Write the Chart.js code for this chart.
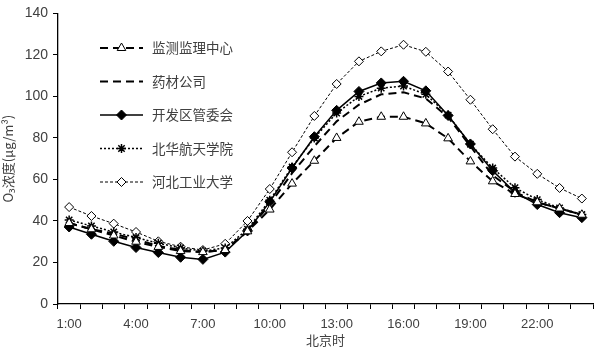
<!DOCTYPE html>
<html lang="zh">
<head>
<meta charset="UTF-8">
<title>O3 浓度日变化</title>
<script src="https://cdn.jsdelivr.net/npm/chart.js"></script>
<style>
  html, body { margin: 0; padding: 0; background: #fff; }
  #wrap { width: 599px; height: 352px; position: relative; }
</style>
</head>
<body>
<div id="wrap"><canvas id="chart" width="599" height="352"></canvas></div>
<script>
  // hours 1:00 .. 24:00
  const hours = ['1:00','2:00','3:00','4:00','5:00','6:00','7:00','8:00','9:00','10:00','11:00','12:00',
                 '13:00','14:00','15:00','16:00','17:00','18:00','19:00','20:00','21:00','22:00','23:00','24:00'];

  const seriesNames = ['监测监理中心', '药材公司', '开发区管委会', '北华航天学院', '河北工业大学'];

  const jianceData = [39, 36, 33, 30, 27.5, 25.5, 25, 26, 35, 45.5, 58, 69, 80, 87.8, 90.2, 90.2, 87, 79.8, 68.7, 59.1, 53, 49, 46, 43];
  const yaocaiData = [39, 36, 34, 31, 28, 26, 25, 26, 35, 48, 63, 76, 88, 96, 101, 102, 99, 90, 76, 62, 54, 49, 46, 43];
  const kaifaData  = [37.1, 33.6, 30.2, 27.2, 24.8, 22.5, 21.5, 25, 35.2, 49.2, 65.5, 80.6, 93.3, 102.4, 106.5, 107.3, 102.7, 90.8, 77.1, 64.2, 53.8, 47.9, 44, 41.6];
  const beihuaData = [40.5, 37.6, 34.7, 32, 29.3, 27, 25.5, 27, 36, 50, 66, 80, 92, 100, 104, 105, 101, 91, 77, 65.5, 56, 50.3, 46.3, 43.1];
  const hebeiData  = [46.7, 42.4, 38.7, 34.7, 30.2, 27.6, 26, 29, 40, 55.4, 73.1, 90.6, 106, 116.9, 121.7, 124.9, 121.5, 112, 98.4, 84.2, 71, 62.7, 55.9, 50.8];

  const yTicks = [0, 20, 40, 60, 80, 100, 120, 140];

  const tickFont = { family: '"Liberation Sans", Arial, sans-serif', size: 13 };
  const cjkFont = '"Noto Sans CJK SC", "Noto Sans", sans-serif';

  // legend drawn inside the plot area, Excel style
  const insideLegend = {
    id: 'insideLegend',
    afterDraw(chart) {
      const ctx = chart.ctx;
      const x0 = 100, x1 = 143, tx = 152;
      ctx.save();
      chart.data.datasets.forEach((ds, i) => {
        const y = 48 + i * 33.5;
        ctx.beginPath();
        ctx.setLineDash(ds.borderDash || []);
        ctx.lineWidth = ds.borderWidth;
        ctx.strokeStyle = ds.borderColor;
        ctx.moveTo(x0, y);
        ctx.lineTo(x1, y);
        ctx.stroke();
        ctx.setLineDash([]);
        if (ds.pointStyle && ds.pointRadius > 0) {
          ctx.fillStyle = ds.pointBackgroundColor;
          ctx.strokeStyle = ds.pointBorderColor;
          ctx.lineWidth = ds.pointBorderWidth;
          Chart.helpers.drawPoint(ctx, {
            pointStyle: ds.pointStyle, radius: ds.pointRadius, rotation: 0, borderWidth: ds.pointBorderWidth
          }, (x0 + x1) / 2, y);
        }
        ctx.fillStyle = '#404040';
        ctx.font = '13.5px ' + cjkFont;
        ctx.textBaseline = 'middle';
        ctx.textAlign = 'left';
        ctx.fillText(ds.label, tx, y);
      });
      ctx.restore();
    }
  };

  function mkSet(label, data, extra) {
    return Object.assign({
      label: label,
      data: data,
      borderColor: '#000',
      borderWidth: 1.5,
      pointBorderColor: '#000',
      pointBackgroundColor: '#fff',
      pointBorderWidth: 1,
      pointRadius: 0,
      fill: false,
      tension: 0
    }, extra);
  }

  new Chart(document.getElementById('chart'), {
    type: 'line',
    data: {
      labels: hours,
      datasets: [
        mkSet(seriesNames[0], jianceData, { borderDash: [8, 5], borderWidth: 2, pointStyle: 'triangle', pointRadius: 5 }),
        mkSet(seriesNames[1], yaocaiData, { borderDash: [8, 5], borderWidth: 2 }),
        mkSet(seriesNames[2], kaifaData,  { borderWidth: 1.5, pointStyle: 'rectRot', pointRadius: 5, pointBackgroundColor: '#000' }),
        mkSet(seriesNames[3], beihuaData, { borderDash: [2, 2], borderWidth: 1.5, pointStyle: 'star', pointRadius: 4.5, pointBorderWidth: 1.5 }),
        mkSet(seriesNames[4], hebeiData,  { borderDash: [3, 2], borderWidth: 1, pointStyle: 'rectRot', pointRadius: 4.5 })
      ]
    },
    options: {
      responsive: false,
      animation: false,
      layout: { padding: { top: 2, right: 4, left: 0, bottom: 0 } },
      plugins: { legend: { display: false }, tooltip: { enabled: false } },
      scales: {
        x: {
          type: 'category',
          offset: true,
          grid: { display: true, drawOnChartArea: false, offset: true, tickLength: 5, color: '#000' },
          border: { color: '#000', width: 1.3 },
          ticks: {
            autoSkip: false, maxRotation: 0, padding: 8, color: '#404040', font: tickFont,
            callback: function (v, i) { return i % 3 === 0 ? hours[i] : ''; }
          },
          title: { display: true, text: '北京时', color: '#404040', font: { family: cjkFont, size: 13 }, padding: { top: 0 } },
          afterFit: function (s) { s.height = 48; }
        },
        y: {
          min: 0, max: 140,
          afterBuildTicks: function (s) { s.ticks = yTicks.map(v => ({ value: v })); },
          grid: { display: true, drawOnChartArea: false, tickLength: 5, color: '#000' },
          border: { color: '#000', width: 1.3 },
          ticks: { padding: 5, color: '#404040', font: { family: tickFont.family, size: 14 } },
          title: { display: true, text: 'O₃浓度(μg/m³)', color: '#404040', font: { family: cjkFont, size: 13 }, padding: 0 },
          afterFit: function (s) { s.width = 58; }
        }
      }
    },
    plugins: [insideLegend]
  });
</script>
</body>
</html>
